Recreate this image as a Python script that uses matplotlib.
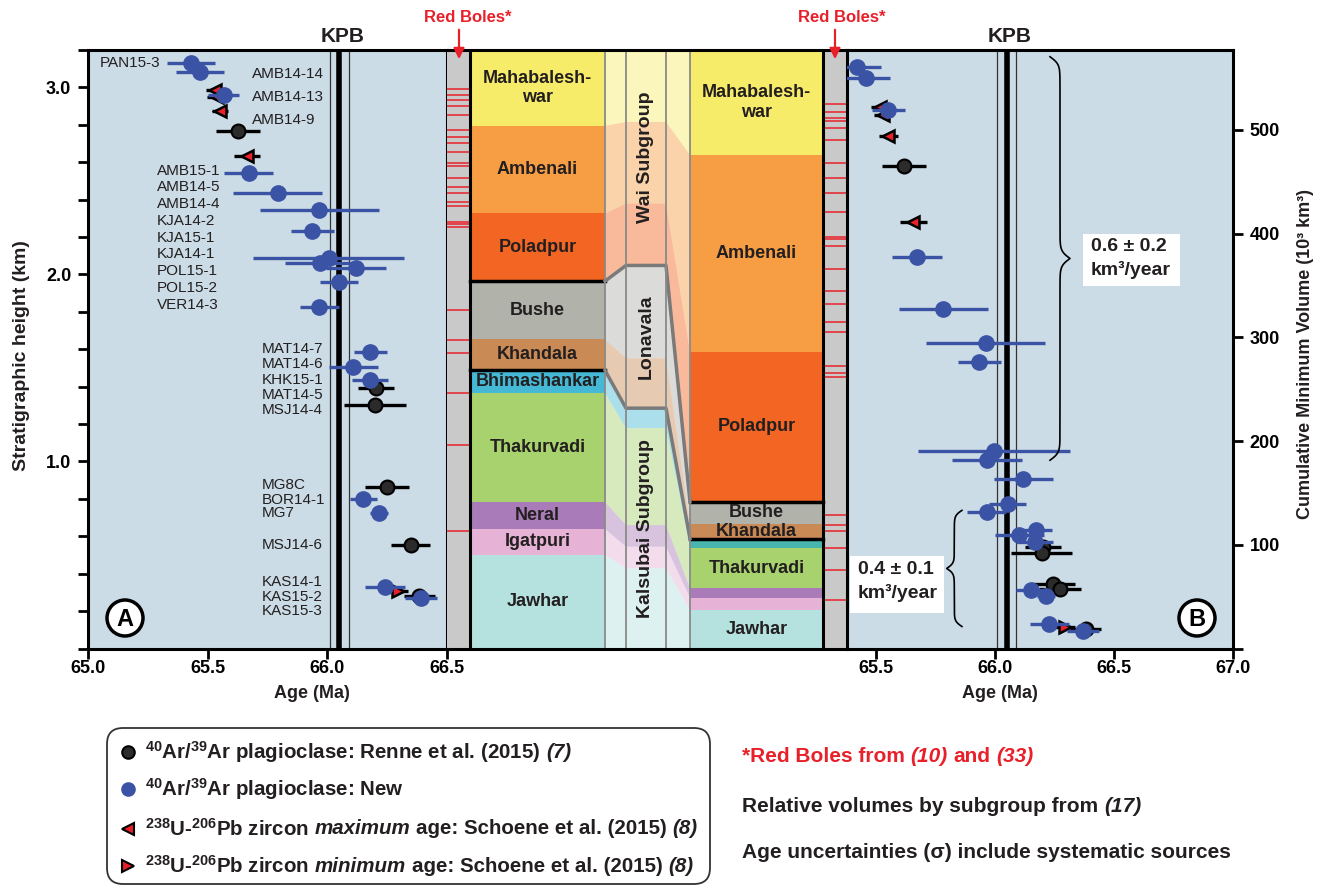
import numpy as np
import matplotlib.pyplot as plt
from matplotlib import font_manager
from matplotlib.patches import Rectangle, Polygon, FancyBboxPatch, Circle
from matplotlib.ticker import MultipleLocator

W, H = 1326, 886

installed = {f.name for f in font_manager.fontManager.ttflist}
SANS = 'Liberation Sans'
NARROW = 'Liberation Sans Narrow' if 'Liberation Sans Narrow' in installed else SANS
plt.rcParams['font.family'] = [SANS, 'DejaVu Sans']
plt.rcParams['mathtext.fontset'] = 'custom'
plt.rcParams['mathtext.rm'] = NARROW + ':bold'
plt.rcParams['mathtext.it'] = NARROW + ':italic:bold'
plt.rcParams['mathtext.bf'] = NARROW + ':bold'

# ---------------- data ----------------
kpb, kpb_lo, kpb_hi = 66.05, 66.01, 66.09

# panel A : age (Ma) vs stratigraphic height (km)
renne_age_A = [65.625, 66.204, 66.199, 66.248, 66.348, 66.384]
renne_h_A = [2.767, 1.391, 1.302, 0.865, 0.553, 0.282]
renne_err_A = [0.092, 0.075, 0.129, 0.092, 0.081, 0.065]

new_age_A = [65.431, 65.469, 65.567, 65.671, 65.792, 65.967, 65.938, 66.005, 65.970, 66.120,
             66.049, 65.967, 66.179, 66.109, 66.179, 66.151, 66.217, 66.241, 66.391]
new_h_A = [3.133, 3.081, 2.960, 2.544, 2.437, 2.345, 2.234, 2.087, 2.063, 2.036,
           1.958, 1.828, 1.587, 1.504, 1.436, 0.798, 0.723, 0.330, 0.272]
new_err_A = [0.099, 0.100, 0.066, 0.104, 0.186, 0.248, 0.090, 0.317, 0.147, 0.125,
             0.079, 0.083, 0.069, 0.104, 0.076, 0.056, 0.037, 0.083, 0.068]

max_age_A = [65.532, 65.539, 65.553, 65.664]
max_h_A = [2.987, 2.951, 2.874, 2.634]
max_err_A = [0.04, 0.04, 0.033, 0.054]
min_age_A = [66.297]
min_h_A = [0.309]
min_err_A = [0.04]

# panel B : age (Ma) vs cumulative volume (10^3 km^3)
renne_age_B = [65.618, 66.203, 66.196, 66.245, 66.273, 66.382]
renne_vol_B = [465.5, 97.8, 92.0, 62.5, 57.6, 19.0]
renne_err_B = [0.094, 0.075, 0.129, 0.091, 0.090, 0.065]

new_age_B = [65.419, 65.458, 65.552, 65.671, 65.783, 65.961, 65.934, 65.997, 65.965, 66.119,
             66.053, 65.965, 66.171, 66.102, 66.168, 66.151, 66.213, 66.228, 66.368]
new_vol_B = [560.5, 550.2, 519.3, 377.1, 326.9, 294.7, 276.4, 190.4, 181.5, 163.1,
             139.7, 131.6, 114.6, 109.1, 102.6, 56.0, 50.2, 23.2, 16.7]
new_err_B = [0.102, 0.101, 0.068, 0.105, 0.188, 0.249, 0.091, 0.320, 0.147, 0.125,
             0.079, 0.083, 0.069, 0.104, 0.076, 0.061, 0.037, 0.083, 0.067]

max_age_B = [65.517, 65.531, 65.552, 65.657]
max_vol_B = [522.5, 514.5, 494.5, 411.5]
max_err_B = [0.04, 0.04, 0.041, 0.057]
min_age_B = [66.294]
min_vol_B = [20.6]
min_err_B = [0.04]

sample_names = ['PAN15-3', 'AMB14-14', 'AMB14-13', 'AMB14-9',
                'AMB15-1', 'AMB14-5', 'AMB14-4', 'KJA14-2', 'KJA15-1', 'KJA14-1',
                'POL15-1', 'POL15-2', 'VER14-3',
                'MAT14-7', 'MAT14-6', 'KHK15-1', 'MAT14-5', 'MSJ14-4',
                'MG8C', 'BOR14-1', 'MG7', 'MSJ14-6', 'KAS14-1', 'KAS15-2', 'KAS15-3']

# formations, top to bottom
formations = ['Mahabalesh-\nwar', 'Ambenali', 'Poladpur', 'Bushe', 'Khandala',
              'Bhimashankar', 'Thakurvadi', 'Neral', 'Igatpuri', 'Jawhar']
right_names = ['Mahabalesh-\nwar', 'Ambenali', 'Poladpur', 'Bushe', 'Khandala',
               '', 'Thakurvadi', '', '', 'Jawhar']
form_colors = ['#f7ec6a', '#f79e45', '#f26522', '#b1b3ab', '#c98a55',
               '#45b8d6', '#a8d26d', '#a97bb8', '#e6b3d6', '#b5e1df']
right_colors = ['#f7ec6a', '#f79e45', '#f26522', '#b1b3ab', '#c98a55',
                '#48b6ae', '#a8d26d', '#a97bb8', '#e6b3d6', '#b5e1df']
left_bounds_km = [3.2, 2.795, 2.326, 1.964, 1.653, 1.487, 1.365, 0.783, 0.639, 0.500, 0.0]
mid_bounds_km = [3.2, 2.815, 2.379, 2.048, 1.552, 1.285, 1.178, 0.660, 0.544, 0.429, 0.0]
right_bounds_vol = [577, 475.7, 286.0, 141.5, 120.0, 106.0, 97.0, 58.0, 49.0, 37.0, 0.0]

subgroups = ['Wai Subgroup', 'Lonavala', 'Kalsubai Subgroup']
subgroup_first = [0, 3, 5]

red_boles_km = [2.992, 2.960, 2.933, 2.901, 2.853, 2.773, 2.737, 2.702, 2.657, 2.595, 2.582,
                2.514, 2.470, 2.434, 2.389, 2.366, 2.282, 2.270, 2.256, 1.810, 1.650, 1.579,
                1.365, 1.088, 0.630]
red_boles_vol = [525.1, 517.7, 511.3, 509.0, 501.6, 490.3, 467.9, 453.4, 439.5, 421.1, 396.4,
                 394.5, 388.0, 365.5, 344.9, 332.0, 315.0, 304.7, 272.5, 265.2, 261.9, 129.1,
                 119.4, 113.2, 97.2, 76.0, 46.3]

# ---------------- figure ----------------
BG = '#cbdce6'
BLUE = '#3a53a4'
RED = '#e8202a'
INK = '#231f20'
KM_TOP, VOL_TOP = 3.2, 577.0
v2k = KM_TOP / VOL_TOP


def px_rect(x0, x1, y0, y1):
    return [x0 / W, 1 - y1 / H, (x1 - x0) / W, (y1 - y0) / H]


fig = plt.figure(figsize=(W / 100, H / 100), dpi=100)
axA = fig.add_axes(px_rect(88, 447, 50, 648.5))
axM = fig.add_axes(px_rect(447, 847, 50, 648.5))
axB = fig.add_axes(px_rect(847, 1233, 50, 648.5))
ov = fig.add_axes([0, 0, 1, 1])
ov.set_xlim(0, W)
ov.set_ylim(H, 0)
ov.axis('off')
ov.set_zorder(5)

for ax in (axA, axB):
    ax.set_facecolor(BG)
    for s in ax.spines.values():
        s.set_linewidth(2.2)
    ax.tick_params(which='both', direction='out', length=7, width=2)
    ax.tick_params(axis='x', pad=1)
    ax.tick_params(axis='y', pad=5)
    ax.axvline(kpb, color='k', lw=4, zorder=1)
    ax.axvline(kpb_lo, color='#333333', lw=0.9, zorder=1)
    ax.axvline(kpb_hi, color='#333333', lw=0.9, zorder=1)

tick_font = dict(fontsize=13, fontweight='bold')

axA.set_xlim(65.0, 66.5)
axA.set_ylim(0, KM_TOP)
axA.set_xticks([65.0, 65.5, 66.0, 66.5], ['65.0', '65.5', '66.0', '66.5'], **tick_font)
axA.set_yticks([1.0, 2.0, 3.0], ['1.0', '2.0', '3.0'], **tick_font)
axA.yaxis.set_minor_locator(MultipleLocator(0.2))

axB.set_xlim(65.378, 67.0)
axB.set_ylim(0, VOL_TOP)
axB.set_xticks([65.5, 66.0, 66.5, 67.0], ['65.5', '66.0', '66.5', '67.0'], **tick_font)
axB.yaxis.tick_right()
axB.set_yticks([0, 100, 200, 300, 400, 500], ['', '100', '200', '300', '400', '500'], **tick_font)


def draw_points(ax, ren_x, ren_y, ren_e, new_x, new_y, new_e, mx_x, mx_y, mx_e, mn_x, mn_y, mn_e):
    ax.errorbar(ren_x, ren_y, xerr=ren_e, fmt='o', color='k', ms=10, mfc='#2b2b2b',
                mec='k', mew=1.5, elinewidth=2.4, capsize=0, zorder=3)
    ax.errorbar(mx_x, mx_y, xerr=mx_e, fmt='<', color='k', ms=9, mfc=RED,
                mec='k', mew=1.8, elinewidth=2.4, capsize=0, zorder=4)
    ax.errorbar(mn_x, mn_y, xerr=mn_e, fmt='>', color='k', ms=9, mfc=RED,
                mec='k', mew=1.8, elinewidth=2.4, capsize=0, zorder=4)
    ax.errorbar(new_x, new_y, xerr=new_e, fmt='o', color=BLUE, ms=11, mfc=BLUE,
                mec=BLUE, elinewidth=2.4, capsize=0, zorder=5)


draw_points(axA, renne_age_A, renne_h_A, renne_err_A, new_age_A, new_h_A, new_err_A,
            max_age_A, max_h_A, max_err_A, min_age_A, min_h_A, min_err_A)
draw_points(axB, renne_age_B, renne_vol_B, renne_err_B, new_age_B, new_vol_B, new_err_B,
            max_age_B, max_vol_B, max_err_B, min_age_B, min_vol_B, min_err_B)

# sample labels in panel A
label_pos = [(65.302, 3.131, 'right'), (65.685, 3.072, 'left'), (65.685, 2.948, 'left'),
             (65.685, 2.826, 'left')]
label_pos += [(65.289, y, 'left') for y in
              [2.555, 2.466, 2.377, 2.288, 2.197, 2.108, 2.019, 1.929, 1.837]]
label_pos += [(65.724, y, 'left') for y in
              [1.600, 1.520, 1.436, 1.356, 1.275, 0.874, 0.794, 0.723, 0.553, 0.354, 0.277, 0.201]]
for name, (x, y, ha) in zip(sample_names, label_pos):
    axA.text(x, y, name, ha=ha, va='center', fontsize=11, color=INK, zorder=6)


# braces in panel B
def brace(ax, x_end, x_tip, y0, y1, beta):
    s = np.linspace(0, 0.5, 300)
    f = 1 / (1 + np.exp(-beta * (s - s[0]))) + 1 / (1 + np.exp(-beta * (s - s[-1]))) - 0.5
    yy = y0 + (y1 - y0) * np.concatenate([s, 1 - s[::-1]])
    xx = x_end + (x_tip - x_end) * np.concatenate([f, f[::-1]])
    ax.plot(xx, yy, color='k', lw=1.2, zorder=6)


brace(axB, 66.231, 66.315, 570.5, 181.5, 110)
brace(axB, 65.861, 65.797, 133.2, 21.2, 45)

# ---------------- middle stratigraphic columns ----------------
axM.set_xlim(0, 400)
axM.set_ylim(0, KM_TOP)
axM.set_xticks([])
axM.set_yticks([])
axM.spines['left'].set_visible(False)
axM.spines['right'].set_visible(False)
axM.spines['top'].set_linewidth(2.2)
axM.spines['bottom'].set_linewidth(2.2)

axM.add_patch(Rectangle((0, 0), 23, KM_TOP, fc='#c9c9c9', ec='none'))
axM.add_patch(Rectangle((376, 0), 24, KM_TOP, fc='#c9c9c9', ec='none'))
for h in red_boles_km:
    axM.plot([0, 23], [h, h], color=RED, lw=1.1)
for v in red_boles_vol:
    axM.plot([376, 400], [v * v2k, v * v2k], color=RED, lw=1.1)

for i in range(len(formations)):
    lt, lb = left_bounds_km[i], left_bounds_km[i + 1]
    mt, mb = mid_bounds_km[i], mid_bounds_km[i + 1]
    rt, rb = right_bounds_vol[i] * v2k, right_bounds_vol[i + 1] * v2k
    axM.add_patch(Rectangle((23, lb), 135, lt - lb, fc=form_colors[i], ec='none'))
    axM.add_patch(Rectangle((243, rb), 133, rt - rb, fc=right_colors[i], ec='none'))
    axM.add_patch(Polygon([(158, lt), (179, mt), (219, mt), (243, rt),
                           (243, rb), (219, mb), (179, mb), (158, lb)],
                          closed=True, fc=form_colors[i], alpha=0.45, ec='none'))
    axM.text(90.5, (lt + lb) / 2, formations[i], ha='center', va='center',
             fontsize=13, fontweight='bold', color=INK, linespacing=1.2)
    if right_names[i]:
        axM.text(309.5, (rt + rb) / 2, right_names[i], ha='center', va='center',
                 fontsize=13, fontweight='bold', color=INK, linespacing=1.2)

# thick formation boundaries
for b in (3, 5):
    axM.plot([23, 158], [left_bounds_km[b]] * 2, color='k', lw=2.5)
    axM.plot([243, 376], [right_bounds_vol[b] * v2k] * 2, color='k', lw=2.5)
    axM.plot([158, 179, 219, 243],
             [left_bounds_km[b], mid_bounds_km[b], mid_bounds_km[b], right_bounds_vol[b] * v2k],
             color='#7a7a7a', lw=2.5)

for x, c, lw in [(23, 'k', 2.2), (158, '#8a8a8a', 1.3), (179, '#8a8a8a', 1.3),
                 (219, '#8a8a8a', 1.3), (243, '#8a8a8a', 1.3), (376, 'k', 2.2)]:
    axM.axvline(x, color=c, lw=lw)

sub_bounds = subgroup_first + [len(formations)]
for k, name in enumerate(subgroups):
    top, bot = mid_bounds_km[sub_bounds[k]], mid_bounds_km[sub_bounds[k + 1]]
    axM.text(199, (top + bot) / 2, name, rotation=90, ha='center', va='center',
             fontsize=14, fontweight='bold', color=INK)

# ---------------- annotations (pixel layout) ----------------
for x, label in [(343, 'KPB'), (1010, 'KPB')]:
    ov.text(x, 36, label, ha='center', va='center', fontsize=15, fontweight='bold', color=INK)
for xt, xa in [(468, 459), (842, 835)]:
    ov.text(xt, 17, 'Red Boles*', ha='center', va='center', fontsize=12, fontweight='bold', color=RED)
    ov.annotate('', xy=(xa, 62), xytext=(xa, 27),
                arrowprops=dict(arrowstyle='-|>', color=RED, lw=1.6, mutation_scale=16))

ov.text(22, 356, 'Stratigraphic height (km)', rotation=90, ha='center', va='center',
        fontsize=14, fontweight='bold', color=INK)
ov.text(1305, 354, 'Cumulative Minimum Volume (10³ km³)', rotation=90, ha='center', va='center',
        fontsize=13, fontweight='bold', color=INK)
ov.text(312, 693, 'Age (Ma)', ha='center', va='center', fontsize=13, fontweight='bold', color=INK)
ov.text(1000, 693, 'Age (Ma)', ha='center', va='center', fontsize=13, fontweight='bold', color=INK)

for cx, letter in [(125, 'A'), (1197, 'B')]:
    ov.add_patch(Circle((cx, 618), 18, fc='white', ec='k', lw=2.5))
    ov.text(cx, 619, letter, ha='center', va='center', fontsize=17, fontweight='bold')

ov.add_patch(Rectangle((1083, 234), 97, 52, fc='white', ec='none'))
ov.text(1091, 246, '0.6 ± 0.2', ha='left', va='center', fontsize=14, fontweight='bold', color=INK)
ov.text(1091, 270, 'km³/year', ha='left', va='center', fontsize=14, fontweight='bold', color=INK)
ov.add_patch(Rectangle((850, 556), 94, 57, fc='white', ec='none'))
ov.text(858, 569, '0.4 ± 0.1', ha='left', va='center', fontsize=14, fontweight='bold', color=INK)
ov.text(858, 593, 'km³/year', ha='left', va='center', fontsize=14, fontweight='bold', color=INK)

renderer = fig.canvas.get_renderer()


def rich_text(x, y, pieces, size, color):
    # pieces: (text, italic) drawn one after another on the overlay (1 unit = 1 px)
    gap = 0.28 * size * 100 / 72
    for k, (txt, italic) in enumerate(pieces):
        t = ov.text(x, y, txt, ha='left', va='center', fontsize=size, fontfamily=NARROW,
                    fontweight='bold', fontstyle='italic' if italic else 'normal', color=color)
        x += t.get_window_extent(renderer=renderer).width + gap


# legend
ov.add_patch(FancyBboxPatch((107, 728), 603, 156, boxstyle='round,pad=0,rounding_size=16',
                            fc='white', ec='#333333', lw=1.3))
legend_rows = [
    (752, 'o', '#2b2b2b', 'k', [(r'$^{40}$Ar/$^{39}$Ar plagioclase: Renne et al. (2015)', False),
                                ('(7)', True)]),
    (789, 'o', BLUE, BLUE, [(r'$^{40}$Ar/$^{39}$Ar plagioclase: New', False)]),
    (829, '<', RED, 'k', [(r'$^{238}$U-$^{206}$Pb zircon', False), ('maximum', True),
                          ('age: Schoene et al. (2015)', False), ('(8)', True)]),
    (866, '>', RED, 'k', [(r'$^{238}$U-$^{206}$Pb zircon', False), ('minimum', True),
                          ('age: Schoene et al. (2015)', False), ('(8)', True)]),
]
for y, m, fc, ec, pieces in legend_rows:
    ov.plot([128], [y], marker=m, ms=9, mfc=fc, mec=ec, mew=1.5, ls='none')
    rich_text(145, y, pieces, 14.8, INK)

rich_text(742, 757, [('*Red Boles from', False), ('(10)', True), ('and', False), ('(33)', True)],
          15, RED)
rich_text(742, 806, [('Relative volumes by subgroup from', False), ('(17)', True)], 15, INK)
rich_text(742, 852, [('Age uncertainties (σ) include systematic sources', False)], 15, INK)

fig.savefig('out.png', dpi=100)
